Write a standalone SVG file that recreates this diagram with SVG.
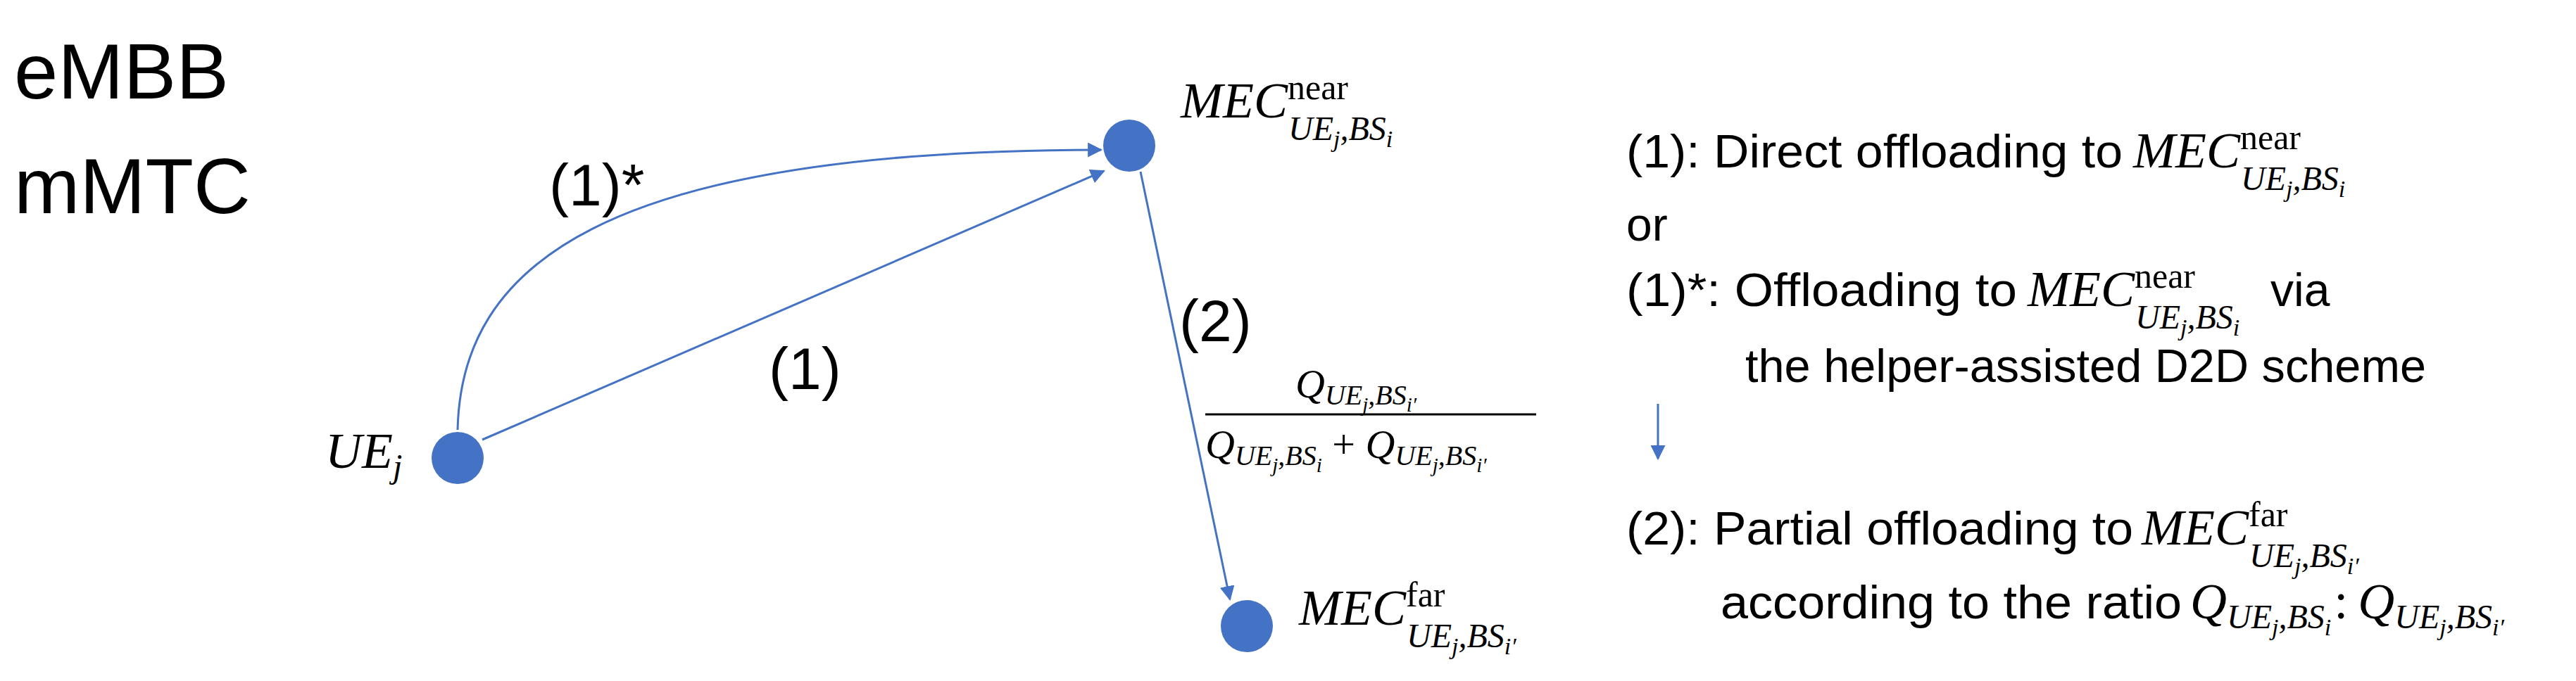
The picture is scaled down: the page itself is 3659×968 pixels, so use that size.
<svg xmlns="http://www.w3.org/2000/svg" width="3659" height="968" viewBox="0 0 3659 968">
<style>
.t{font-family:"Liberation Sans",Arial,sans-serif;fill:#000}
.big{font-size:112px}
.lab{font-size:84px}
.body{font-size:66px}
.m{font-family:"Liberation Serif","DejaVu Serif",serif;font-style:italic;font-size:72px;fill:#000}
.sup{font-style:normal;font-size:50px}
.sub{font-size:48px}
.ss{font-size:34px}
.node{fill:#4472C4}
.edge{fill:none;stroke:#4472C4;stroke-width:3}
</style>
<defs>
<marker id="ah" viewBox="0 0 10 10" refX="9" refY="5" markerWidth="7" markerHeight="7" orient="auto" markerUnits="strokeWidth"><path d="M0,0 L10,5 L0,10 z" fill="#4472C4"/></marker>
</defs>
<text class="t big" x="20" y="140">eMBB</text>
<text class="t big" x="20" y="303">mMTC</text>
<g id="edges">
<path class="edge" d="M650,611 C655,380 850,213 1564,213" marker-end="url(#ah)"/>
<line class="edge" x1="685" y1="625" x2="1568" y2="243" marker-end="url(#ah)"/>
<line class="edge" x1="1620" y1="244" x2="1747" y2="852" marker-end="url(#ah)"/>
<line class="edge" x1="2355" y1="574" x2="2355" y2="652" marker-end="url(#ah)"/>
</g>
<text class="t lab" x="780" y="292">(1)*</text>
<text class="t lab" x="1092" y="553">(1)</text>
<text class="t lab" x="1675" y="485">(2)</text>
<g id="ue">
<ellipse class="node" cx="650" cy="651" rx="37" ry="37"/>
<text class="m" x="462" y="665">UE<tspan class="sub" dy="14">j</tspan></text>
</g>
<g id="mec-near">
<ellipse class="node" cx="1604" cy="207" rx="37" ry="37"/>
<text class="m" x="1677" y="167">MEC<tspan class="sup" dy="-26">near</tspan><tspan class="sub" x="1830" dy="58">UE</tspan><tspan class="ss" dy="10">j</tspan><tspan class="sub" dy="-10">,BS</tspan><tspan class="ss" dy="10">i</tspan></text>
</g>
<g id="mec-far">
<ellipse class="node" cx="1771" cy="890" rx="37" ry="37"/>
<text class="m" x="1845" y="888">MEC<tspan class="sup" dy="-26">far</tspan><tspan class="sub" x="1998" dy="58">UE</tspan><tspan class="ss" dy="10">j</tspan><tspan class="sub" dy="-10">,BS</tspan><tspan class="ss" dy="10">i′</tspan></text>
</g>
<g id="ratio">
<text class="m" x="1840" y="565" style="font-size:58px">Q<tspan class="sub" style="font-size:40px" dy="10">UE</tspan><tspan class="ss" style="font-size:29px" dy="10">j</tspan><tspan class="sub" style="font-size:40px" dy="-10">,BS</tspan><tspan class="ss" style="font-size:29px" dy="10">i′</tspan></text>
<line x1="1712" y1="589" x2="2182" y2="589" stroke="#000" stroke-width="3"/>
<text class="m" x="1712" y="651" style="font-size:58px">Q<tspan class="sub" style="font-size:40px" dy="10">UE</tspan><tspan class="ss" style="font-size:29px" dy="10">j</tspan><tspan class="sub" style="font-size:40px" dy="-10">,BS</tspan><tspan class="ss" style="font-size:29px" dy="10">i</tspan><tspan dy="-20" style="font-style:normal"> + </tspan>Q<tspan class="sub" style="font-size:40px" dy="10">UE</tspan><tspan class="ss" style="font-size:29px" dy="10">j</tspan><tspan class="sub" style="font-size:40px" dy="-10">,BS</tspan><tspan class="ss" style="font-size:29px" dy="10">i′</tspan></text>
</g>
<g id="legend">
<text class="t body" x="2310" y="238" textLength="705" lengthAdjust="spacingAndGlyphs">(1): Direct offloading to</text>
<text class="m" x="3030" y="238">MEC<tspan class="sup" dy="-26">near</tspan><tspan class="sub" x="3183" dy="58">UE</tspan><tspan class="ss" dy="10">j</tspan><tspan class="sub" dy="-10">,BS</tspan><tspan class="ss" dy="10">i</tspan></text>
<text class="t body" x="2310" y="342">or</text>
<text class="t body" x="2310" y="435" textLength="555" lengthAdjust="spacingAndGlyphs">(1)*: Offloading to</text>
<text class="m" x="2880" y="435">MEC<tspan class="sup" dy="-26">near</tspan><tspan class="sub" x="3033" dy="58">UE</tspan><tspan class="ss" dy="10">j</tspan><tspan class="sub" dy="-10">,BS</tspan><tspan class="ss" dy="10">i</tspan></text>
<text class="t body" x="3225" y="435">via</text>
<text class="t body" x="2479" y="543" textLength="967" lengthAdjust="spacingAndGlyphs">the helper-assisted D2D scheme</text>
<text class="t body" x="2310" y="774" textLength="720" lengthAdjust="spacingAndGlyphs">(2): Partial offloading to</text>
<text class="m" x="3042" y="774">MEC<tspan class="sup" dy="-26">far</tspan><tspan class="sub" x="3195" dy="58">UE</tspan><tspan class="ss" dy="10">j</tspan><tspan class="sub" dy="-10">,BS</tspan><tspan class="ss" dy="10">i′</tspan></text>
<text class="t body" x="2444" y="879" textLength="655" lengthAdjust="spacingAndGlyphs">according to the ratio</text>
<text class="m" x="3111" y="879">Q<tspan class="sub" dy="14">UE</tspan><tspan class="ss" dy="10">j</tspan><tspan class="sub" dy="-10">,BS</tspan><tspan class="ss" dy="10">i</tspan><tspan style="font-style:normal" dx="4" dy="-24">:</tspan><tspan dx="14">Q</tspan><tspan class="sub" dy="14">UE</tspan><tspan class="ss" dy="10">j</tspan><tspan class="sub" dy="-10">,BS</tspan><tspan class="ss" dy="10">i′</tspan></text>
</g>
</svg>
